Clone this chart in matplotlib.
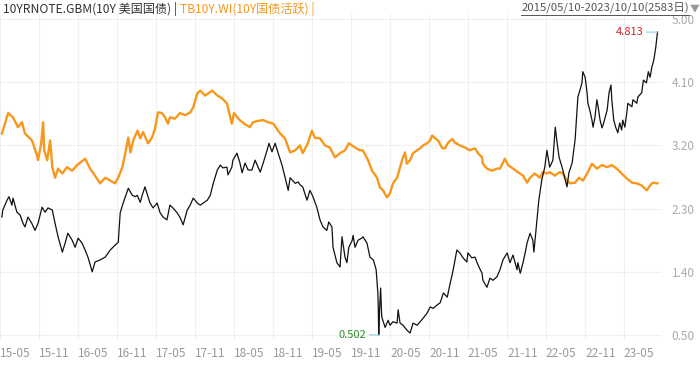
import matplotlib
matplotlib.use("Agg")
import matplotlib.pyplot as plt
import matplotlib.dates as mdates
import pandas as pd
from matplotlib.lines import Line2D

plt.rcParams['font.family'] = ['Noto Sans CJK SC', 'DejaVu Sans']

# 10YRNOTE.GBM (10Y 美国国债)
us_dates = [
    "2015-05-10", "2015-05-14", "2015-06-03", "2015-06-12", "2015-06-26", "2015-07-01", "2015-07-19",
    "2015-08-03", "2015-08-17", "2015-08-26", "2015-09-09", "2015-09-27", "2015-10-12", "2015-10-26",
    "2015-11-14", "2015-11-28", "2015-12-12", "2016-01-01", "2016-01-14", "2016-01-28", "2016-02-17",
    "2016-03-01", "2016-03-14", "2016-04-03", "2016-04-17", "2016-05-01", "2016-05-19", "2016-06-03",
    "2016-06-17", "2016-07-06", "2016-07-19", "2016-08-12", "2016-09-05", "2016-09-28", "2016-10-21",
    "2016-11-05", "2016-11-14", "2016-11-28", "2016-12-22", "2017-01-10", "2017-01-24", "2017-02-02",
    "2017-02-16", "2017-02-25", "2017-03-10", "2017-03-19", "2017-04-03", "2017-04-17", "2017-05-06",
    "2017-05-20", "2017-06-03", "2017-06-21", "2017-07-05", "2017-07-19", "2017-08-08", "2017-08-22",
    "2017-09-05", "2017-09-24", "2017-10-08", "2017-10-22", "2017-11-10", "2017-11-24", "2017-12-08",
    "2017-12-27", "2018-01-10", "2018-01-24", "2018-02-12", "2018-02-26", "2018-03-10", "2018-03-29",
    "2018-04-03", "2018-04-21", "2018-04-26", "2018-05-15", "2018-05-29", "2018-06-08", "2018-06-22",
    "2018-07-06", "2018-07-24", "2018-08-08", "2018-08-22", "2018-09-01", "2018-09-15", "2018-10-03",
    "2018-10-12", "2018-10-26", "2018-11-10", "2018-11-24", "2018-12-12", "2018-12-26", "2019-01-10",
    "2019-01-19", "2019-02-12", "2019-02-26", "2019-03-06", "2019-03-19", "2019-04-08", "2019-04-22",
    "2019-05-06", "2019-05-24", "2019-06-08", "2019-06-22", "2019-07-10", "2019-07-19", "2019-08-03",
    "2019-08-08", "2019-08-26", "2019-09-10", "2019-09-19", "2019-10-03", "2019-10-12", "2019-10-21",
    "2019-11-06", "2019-11-10", "2019-11-19", "2019-12-03", "2019-12-21", "2019-12-26", "2020-01-14",
    "2020-01-28", "2020-02-13", "2020-02-26", "2020-03-05", "2020-03-07", "2020-03-09", "2020-03-13",
    "2020-03-18", "2020-03-23", "2020-04-08", "2020-04-22", "2020-05-01", "2020-05-15", "2020-06-03",
    "2020-06-08", "2020-06-17", "2020-07-01", "2020-07-19", "2020-08-03", "2020-08-17", "2020-09-05",
    "2020-09-19", "2020-10-03", "2020-10-21", "2020-11-05", "2020-11-19", "2020-12-08", "2020-12-22",
    "2021-01-06", "2021-01-24", "2021-02-07", "2021-02-21", "2021-03-10", "2021-03-24", "2021-04-08",
    "2021-04-26", "2021-05-01", "2021-05-19", "2021-06-03", "2021-06-17", "2021-07-06", "2021-07-10",
    "2021-07-29", "2021-08-12", "2021-08-26", "2021-09-14", "2021-09-28", "2021-10-12", "2021-11-01",
    "2021-11-14", "2021-11-28", "2021-12-17", "2021-12-21", "2022-01-01", "2022-01-14", "2022-01-24",
    "2022-02-02", "2022-02-16", "2022-03-01", "2022-03-06", "2022-03-20", "2022-03-29", "2022-04-12",
    "2022-04-26", "2022-05-06", "2022-05-19", "2022-06-03", "2022-06-14", "2022-06-23", "2022-07-02",
    "2022-07-16", "2022-08-08", "2022-08-17", "2022-09-01", "2022-09-15", "2022-09-24", "2022-09-28",
    "2022-10-08", "2022-10-17", "2022-10-21", "2022-11-01", "2022-11-10", "2022-11-14", "2022-11-23",
    "2022-12-03", "2022-12-08", "2022-12-17", "2022-12-26", "2023-01-01", "2023-01-10", "2023-01-19",
    "2023-01-24", "2023-02-12", "2023-02-21", "2023-03-02", "2023-03-06", "2023-03-15", "2023-03-24",
    "2023-04-03", "2023-04-12", "2023-04-21", "2023-04-26", "2023-05-06", "2023-05-15", "2023-05-20",
    "2023-06-08", "2023-06-13", "2023-07-01", "2023-07-06", "2023-07-24", "2023-08-01", "2023-08-15",
    "2023-08-24", "2023-09-01", "2023-09-10", "2023-09-19", "2023-09-28", "2023-10-06",
]
us_vals = [
    2.18, 2.28, 2.42, 2.47, 2.35, 2.45, 2.25,
    2.21, 2.09, 2.04, 2.18, 2.09, 1.99, 2.09,
    2.32, 2.25, 2.31, 2.28, 2.09, 1.90, 1.68,
    1.81, 1.95, 1.85, 1.75, 1.88, 1.81, 1.71,
    1.60, 1.40, 1.54, 1.57, 1.61, 1.71, 1.78,
    1.82, 2.24, 2.38, 2.59, 2.49, 2.47, 2.49,
    2.39, 2.49, 2.61, 2.52, 2.38, 2.31, 2.38,
    2.24, 2.18, 2.14, 2.35, 2.31, 2.24, 2.17,
    2.07, 2.28, 2.35, 2.45, 2.38, 2.35, 2.38,
    2.42, 2.49, 2.66, 2.85, 2.92, 2.88, 2.89,
    2.78, 2.89, 2.99, 3.09, 2.95, 2.81, 2.95,
    2.85, 2.85, 2.99, 2.89, 2.82, 2.95, 3.13,
    3.23, 3.11, 3.23, 3.09, 2.92, 2.75, 2.56,
    2.74, 2.66, 2.68, 2.64, 2.61, 2.42, 2.56,
    2.47, 2.32, 2.14, 2.04, 1.99, 2.11, 2.04,
    1.75, 1.53, 1.47, 1.90, 1.61, 1.53, 1.75,
    1.85, 1.92, 1.75, 1.85, 1.88, 1.90, 1.81,
    1.61, 1.57, 1.43, 1.10, 0.90, 0.502, 0.86,
    1.17, 0.76, 0.61, 0.71, 0.64, 0.69, 0.67,
    0.86, 0.67, 0.64, 0.57, 0.53, 0.67, 0.64,
    0.69, 0.74, 0.81, 0.90, 0.88, 0.93, 0.96,
    1.10, 1.04, 1.24, 1.43, 1.71, 1.67, 1.60,
    1.54, 1.67, 1.60, 1.61, 1.50, 1.38, 1.28,
    1.18, 1.31, 1.28, 1.33, 1.43, 1.57, 1.67,
    1.53, 1.64, 1.43, 1.53, 1.38, 1.53, 1.67,
    1.81, 1.95, 1.85, 1.68, 2.14, 2.42, 2.71,
    2.89, 3.13, 2.89, 2.99, 3.46, 3.23, 3.03,
    2.89, 2.61, 2.81, 2.95, 3.28, 3.70, 3.89,
    3.99, 4.09, 4.25, 4.17, 3.95, 3.80, 3.70,
    3.56, 3.46, 3.60, 3.85, 3.75, 3.56, 3.45,
    3.49, 3.70, 3.95, 4.06, 3.85, 3.56, 3.46,
    3.38, 3.52, 3.42, 3.56, 3.46, 3.66, 3.80,
    3.75, 3.85, 3.80, 3.89, 3.95, 4.13, 4.09,
    4.25, 4.17, 4.32, 4.42, 4.60, 4.813,
]

# TB10Y.WI (10Y国债活跃)
cn_dates = [
    "2015-05-10", "2015-06-08", "2015-07-01", "2015-07-24", "2015-08-12", "2015-08-26", "2015-09-28",
    "2015-10-21", "2015-10-26", "2015-11-10", "2015-11-19", "2015-11-24", "2015-12-08", "2015-12-22",
    "2016-01-01", "2016-01-14", "2016-01-28", "2016-02-17", "2016-03-10", "2016-04-03", "2016-04-26",
    "2016-06-03", "2016-06-26", "2016-07-19", "2016-08-12", "2016-09-05", "2016-09-28", "2016-10-21",
    "2016-11-05", "2016-11-24", "2016-12-08", "2016-12-22", "2017-01-01", "2017-01-14", "2017-02-03",
    "2017-02-16", "2017-03-01", "2017-03-19", "2017-03-24", "2017-04-12", "2017-04-26", "2017-05-10",
    "2017-05-29", "2017-06-12", "2017-06-26", "2017-07-05", "2017-07-28", "2017-08-21", "2017-09-14",
    "2017-10-08", "2017-10-22", "2017-11-10", "2017-11-24", "2017-12-17", "2018-01-19", "2018-02-12",
    "2018-03-06", "2018-03-29", "2018-04-21", "2018-05-01", "2018-05-28", "2018-06-22", "2018-07-15",
    "2018-07-29", "2018-08-22", "2018-09-15", "2018-10-08", "2018-11-01", "2018-12-03", "2018-12-26",
    "2019-01-19", "2019-02-12", "2019-03-06", "2019-03-19", "2019-04-12", "2019-05-01", "2019-05-15",
    "2019-06-08", "2019-07-01", "2019-07-24", "2019-08-17", "2019-09-10", "2019-10-03", "2019-10-21",
    "2019-11-19", "2019-12-12", "2019-12-26", "2020-01-19", "2020-02-07", "2020-03-01", "2020-03-15",
    "2020-03-29", "2020-04-17", "2020-05-01", "2020-05-15", "2020-06-03", "2020-06-17", "2020-07-01",
    "2020-07-10", "2020-07-19", "2020-08-03", "2020-08-17", "2020-09-05", "2020-09-19", "2020-10-03",
    "2020-10-21", "2020-11-05", "2020-11-14", "2020-11-28", "2020-12-12", "2021-01-01", "2021-01-14",
    "2021-01-28", "2021-02-17", "2021-03-01", "2021-03-24", "2021-04-17", "2021-05-10", "2021-06-03",
    "2021-06-17", "2021-07-06", "2021-07-10", "2021-07-29", "2021-08-22", "2021-09-14", "2021-09-28",
    "2021-10-21", "2021-11-05", "2021-11-28", "2021-12-21", "2022-01-14", "2022-02-02", "2022-02-16",
    "2022-03-10", "2022-04-03", "2022-04-17", "2022-05-06", "2022-05-19", "2022-06-12", "2022-07-05",
    "2022-07-19", "2022-08-08", "2022-08-22", "2022-09-15", "2022-10-03", "2022-10-22", "2022-11-14",
    "2022-12-03", "2022-12-26", "2023-01-19", "2023-02-12", "2023-03-06", "2023-03-29", "2023-04-21",
    "2023-05-15", "2023-06-08", "2023-07-01", "2023-07-24", "2023-08-17", "2023-09-01", "2023-09-14",
    "2023-10-06",
]
cn_vals = [
    3.37, 3.66, 3.60, 3.46, 3.53, 3.37, 3.27,
    3.06, 2.99, 3.23, 3.53, 3.13, 2.99, 3.27,
    2.89, 2.74, 2.87, 2.80, 2.89, 2.84, 2.92,
    3.01, 2.87, 2.77, 2.66, 2.74, 2.70, 2.66,
    2.74, 2.89, 3.09, 3.31, 3.10, 3.27, 3.41,
    3.30, 3.39, 3.27, 3.23, 3.31, 3.44, 3.67,
    3.66, 3.60, 3.51, 3.60, 3.58, 3.66, 3.63,
    3.67, 3.74, 3.94, 3.98, 3.91, 3.98, 3.91,
    3.87, 3.80, 3.51, 3.66, 3.56, 3.50, 3.46,
    3.53, 3.55, 3.56, 3.53, 3.51, 3.37, 3.30,
    3.10, 3.13, 3.20, 3.09, 3.23, 3.41, 3.31,
    3.30, 3.20, 3.17, 3.03, 3.09, 3.13, 3.23,
    3.17, 3.13, 3.13, 2.99, 2.84, 2.74, 2.60,
    2.56, 2.46, 2.52, 2.66, 2.74, 2.89, 3.03,
    3.10, 2.94, 2.99, 3.09, 3.13, 3.16, 3.20,
    3.23, 3.27, 3.34, 3.30, 3.27, 3.16, 3.16,
    3.24, 3.29, 3.24, 3.20, 3.17, 3.13, 3.16,
    3.09, 3.03, 2.94, 2.87, 2.84, 2.87, 2.87,
    3.01, 2.92, 2.87, 2.82, 2.77, 2.67, 2.74,
    2.80, 2.74, 2.82, 2.80, 2.82, 2.77, 2.82,
    2.80, 2.70, 2.66, 2.67, 2.74, 2.70, 2.82,
    2.94, 2.87, 2.92, 2.89, 2.92, 2.87, 2.80,
    2.73, 2.67, 2.66, 2.63, 2.56, 2.63, 2.67,
    2.66,
]

y_ticks = [0.50, 1.40, 2.30, 3.20, 4.10, 5.00]

us = pd.Series(us_vals, index=pd.to_datetime(us_dates))
cn = pd.Series(cn_vals, index=pd.to_datetime(cn_dates))

fig = plt.figure(figsize=(7, 3.65), dpi=100)
ax = fig.add_axes([0.0, 0.0685, 0.9457, 0.893])

ax.plot(cn.index, cn.values, color='#f7981d', lw=1.7, zorder=2)
ax.plot(us.index, us.values, color='#111111', lw=0.9, zorder=3)

ax.set_xlim(pd.Timestamp('2015-05-01'), pd.Timestamp('2023-10-27'))
ax.set_ylim(0.43, 5.07)

ticks = pd.date_range('2015-05-01', '2023-05-01', freq='6MS')
ax.set_xticks(ticks)
ax.xaxis.set_major_formatter(mdates.DateFormatter('%y-%m'))
for lab in ax.get_xticklabels():
    lab.set_horizontalalignment('left')
ax.tick_params(axis='x', length=0, pad=5, labelsize=8.5, labelcolor='#999999')

ax.set_yticks(y_ticks)
ax.set_yticklabels([f"{v:.2f}" for v in y_ticks])
ax.yaxis.tick_right()
ax.tick_params(axis='y', length=0, pad=7, labelsize=8.5, labelcolor='#aaaaaa')

ax.grid(True, color='#f0f0f0', lw=0.8)
ax.set_axisbelow(True)
for s in ax.spines.values():
    s.set_visible(False)

# max / min markers
imax = us.idxmax()
imin = us.idxmin()
ax.annotate(f"{us.max():.3f}", xy=(imax, us.max()), xytext=(-14, 0), textcoords='offset pixels',
            ha='right', va='center', fontsize=8, color='#d0202a',
            arrowprops=dict(arrowstyle='-', color='#8ecfe8', lw=0.8, shrinkA=0, shrinkB=0))
ax.annotate(f"{us.min():.3f}", xy=(imin, us.min()), xytext=(-12, 0), textcoords='offset pixels',
            ha='right', va='center', fontsize=8, color='#2e8b2e',
            arrowprops=dict(arrowstyle='-', color='#8ecfe8', lw=0.8, shrinkA=0, shrinkB=0))

# header
fig.text(3 / 700, 1 - 9 / 365, "10YRNOTE.GBM(10Y 美国国债) |", fontsize=8.7, color='#333333',
         ha='left', va='center')
fig.text(180 / 700, 1 - 9 / 365, "TB10Y.WI(10Y国债活跃) |", fontsize=8.7, color='#f7981d',
         ha='left', va='center')
fig.text(689 / 700, 1 - 8 / 365, "2015/05/10-2023/10/10(2583日)", fontsize=8.2, color='#555555',
         ha='right', va='center')
fig.text(699 / 700, 1 - 8 / 365, "▼", fontsize=7, color='#999999', ha='right', va='center')
fig.add_artist(Line2D([521 / 700, 689 / 700], [1 - 15 / 365, 1 - 15 / 365], color='#555555', lw=0.7))

fig.savefig('out.png', dpi=100)
